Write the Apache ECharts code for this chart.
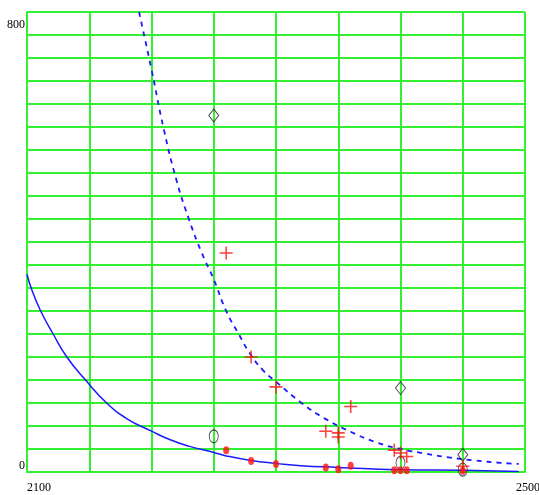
<!DOCTYPE html>
<html><head><meta charset="utf-8">
<script src="https://cdn.jsdelivr.net/npm/echarts@6/dist/echarts.min.js"></script>
<style>html,body{margin:0;padding:0;background:#fff}#c{width:539px;height:495px}</style>
</head><body><div id="c"></div>
<script>
const xLabelValues = [2100, 2500];
const yLabelValues = [0, 800];

const solidX = [2100,2104,2111,2121,2132,2147,2164,2180,2200,2215,2230,2250,2260,2280,2300,2320,2350,2370,2400,2450,2495];
const solidY = [344,316,280,240,200,160,120,93,71,56,45,34,28,20,15,11,8,6,4,3,1];

const dashedX = [2190,2200,2210,2220,2230,2240,2250,2260,2270,2280,2290,2300,2320,2340,2360,2380,2400,2420,2440,2460,2480,2495];
const dashedY = [800,700,595,508,440,383,335,280,240,203,176,157,121,92,70,52,40,32,25,20,16,14];

const crossX = [2260,2280,2300,2340,2350,2350,2360,2395,2400,2405,2450];
const crossY = [381,200,148,71,68,61,114,38,33,27,10];

const dotX = [2260,2280,2300,2340,2350,2360,2395,2400,2405,2450];
const dotY = [38,19,14,8,5,11,3,3,3,2];

const diamondX = [2250,2400,2450];
const diamondY = [620,146,30];

const ovalX = [2250,2400,2450];
const ovalY = [62,16,4];

const pairs = (xs, ys) => xs.map((x, i) => [x, ys[i]]);
const green = '#33f033';
const font = '"Liberation Serif", "DejaVu Serif", serif';

const chart = echarts.init(document.getElementById('c'), null, {renderer: 'canvas'});
const baseAxis = {type: 'value', axisTick: {show: false}};
chart.setOption({
  animation: false,
  backgroundColor: '#fff',
  grid: {left: 27, right: 14, top: 12, bottom: 23, containLabel: false, outerBoundsMode: 'none'},
  xAxis: [
    Object.assign({}, baseAxis, {
      min: 2100, max: 2500, interval: 50,
      axisLine: {show: true, lineStyle: {color: green, width: 2}},
      splitLine: {show: true, lineStyle: {color: green, width: 2}},
      axisLabel: {showMinLabel: true, showMaxLabel: true, formatter: v => v === xLabelValues[0] ? String(v) : '',
        align: 'left', margin: 10, fontFamily: font, fontSize: 12, color: '#000'}
    }),
    Object.assign({}, baseAxis, {
      min: 2100, max: 2500, interval: 50, position: 'bottom',
      axisLine: {show: false}, splitLine: {show: false},
      axisLabel: {showMinLabel: true, showMaxLabel: true, formatter: v => v === xLabelValues[1] ? String(v) : '',
        align: 'center', padding: [0, 0, 0, 6], margin: 10, fontFamily: font, fontSize: 12, color: '#000'}
    })
  ],
  yAxis: [
    Object.assign({}, baseAxis, {
      min: 0, max: 800, interval: 40,
      axisLine: {show: true, lineStyle: {color: green, width: 2}},
      splitLine: {show: true, lineStyle: {color: green, width: 2}},
      axisLabel: {showMinLabel: true, showMaxLabel: true, formatter: v => v === yLabelValues[0] ? String(v) : '',
        verticalAlign: 'bottom', margin: 2, fontFamily: font, fontSize: 12, color: '#000'}
    }),
    Object.assign({}, baseAxis, {
      min: 0, max: 800, interval: 40, position: 'left',
      axisLine: {show: false}, splitLine: {show: false},
      axisLabel: {showMinLabel: true, showMaxLabel: true, formatter: v => v === yLabelValues[1] ? String(v) : '',
        verticalAlign: 'top', padding: [7, 0, 0, 0], margin: 2, fontFamily: font, fontSize: 12, color: '#000'}
    })
  ],
  series: [
    {type: 'line', data: pairs(solidX, solidY), smooth: true, symbol: 'none',
      lineStyle: {color: '#1a1aff', width: 1.5}, z: 3},
    {type: 'line', data: pairs(dashedX, dashedY), smooth: true, symbol: 'none',
      lineStyle: {color: '#1a1aff', width: 1.8, type: [5, 5]}, z: 3},
    {type: 'scatter', data: pairs(diamondX, diamondY), symbol: 'diamond', symbolSize: [10, 13],
      itemStyle: {color: 'rgba(255,255,255,0)', borderColor: '#222', borderWidth: 1}, z: 4},
    {type: 'scatter', data: pairs(ovalX, ovalY), symbol: 'circle', symbolSize: [9, 13],
      itemStyle: {color: 'rgba(255,255,255,0)', borderColor: '#222', borderWidth: 1}, z: 4},
    {type: 'scatter', data: pairs(crossX, crossY), symbol: 'path://M4.4,0H5.6V10H4.4ZM0,4.4H10V5.6H0Z', symbolSize: 13,
      itemStyle: {color: '#ff1010'}, z: 5},
    {type: 'scatter', data: pairs(dotX, dotY), symbol: 'circle', symbolSize: [6, 8],
      itemStyle: {color: '#ff1010'}, z: 5}
  ]
});
</script>
</body></html>
